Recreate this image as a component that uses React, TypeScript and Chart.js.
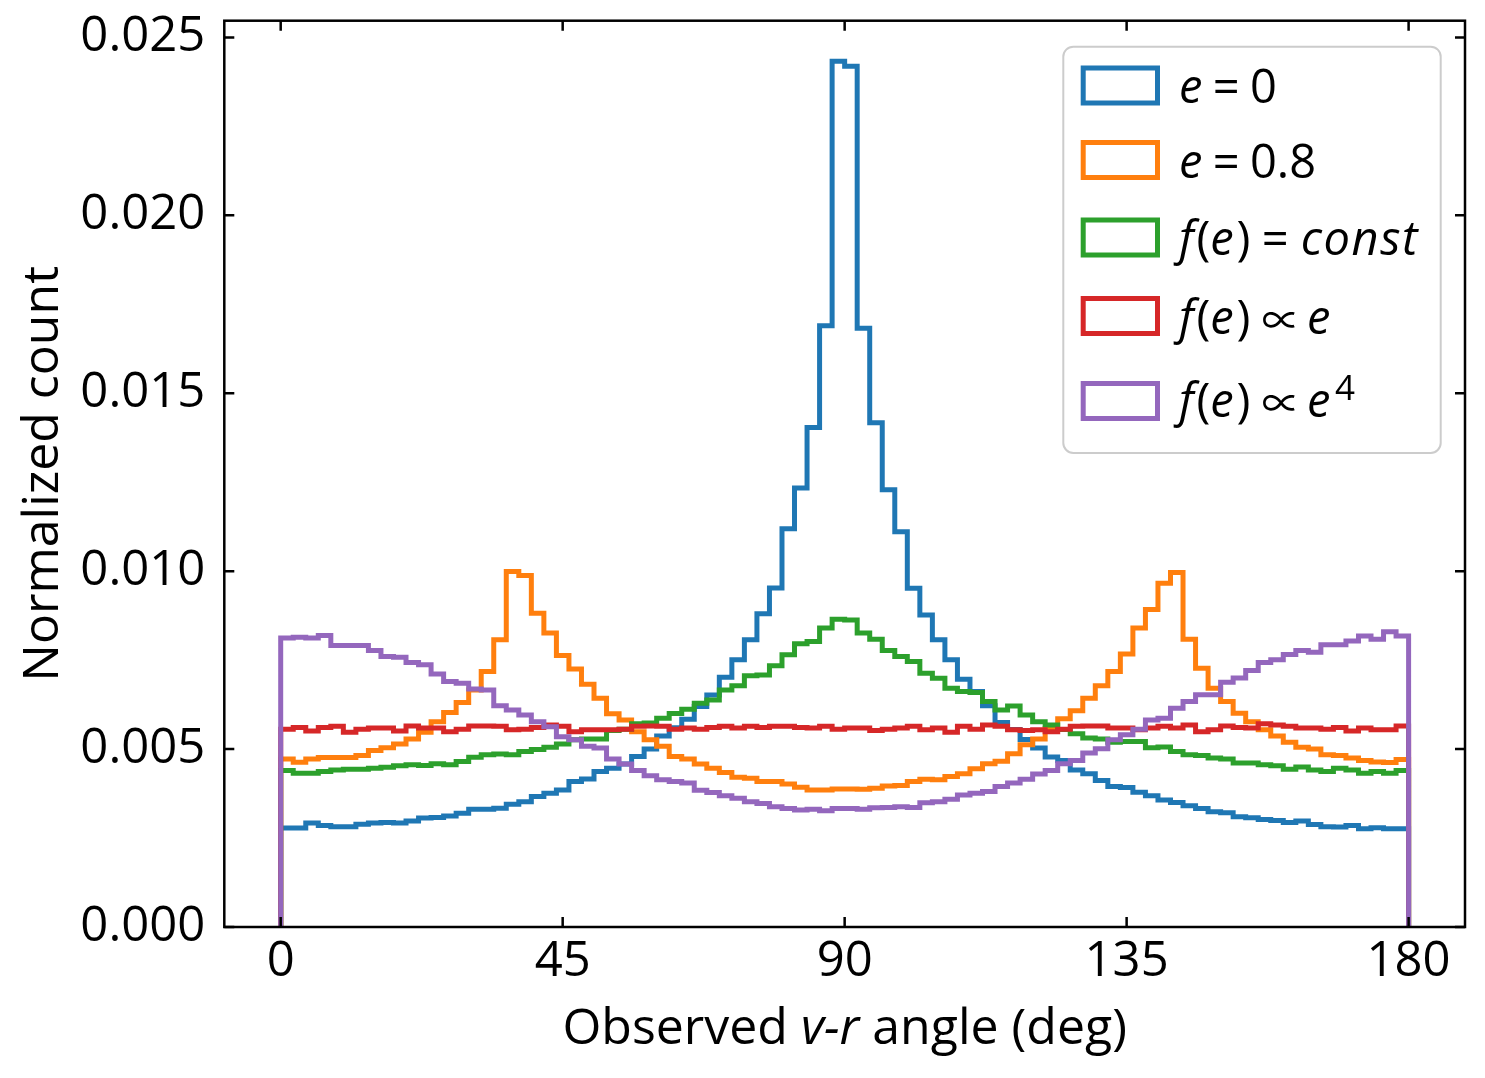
import { useEffect, useRef } from "react";
import { Chart, registerables } from "chart.js";

Chart.register(...registerables);

// ---------------- data ----------------
// Histogram: 90 bins of 2 degrees between 0 and 180 (values in units of 1e-3)
const BIN_WIDTH = 2;
const BIN_COUNT = 90;
const BIN_EDGES: number[] = Array.from({ length: BIN_COUNT + 1 }, (_, i) => i * BIN_WIDTH);
const UNIT = 1e-3;

const X_TICKS = [0, 45, 90, 135, 180];
const Y_TICKS = [0, 0.005, 0.01, 0.015, 0.02, 0.025];

const E0 = [
  2.78, 2.78, 2.92, 2.85, 2.82, 2.82, 2.89, 2.92, 2.94, 2.92,
  2.98, 3.06, 3.08, 3.12, 3.20, 3.31, 3.31, 3.34, 3.45, 3.52,
  3.67, 3.76, 3.85, 4.09, 4.16, 4.37, 4.46, 4.58, 4.79, 5.00,
  5.37, 5.60, 5.84, 6.20, 6.52, 7.02, 7.51, 8.07, 8.80, 9.53,
  11.19, 12.34, 14.04, 16.90, 24.33, 24.19, 16.83, 14.17, 12.29, 11.11,
  9.52, 8.77, 8.07, 7.51, 6.96, 6.62, 6.22, 5.75, 5.55, 5.27,
  5.03, 4.78, 4.68, 4.41, 4.31, 4.12, 3.95, 3.92, 3.79, 3.69,
  3.57, 3.50, 3.41, 3.33, 3.24, 3.21, 3.10, 3.07, 3.02, 2.99,
  2.94, 2.98, 2.88, 2.82, 2.81, 2.85, 2.76, 2.79, 2.76, 2.76,
];

const E08 = [
  4.72, 4.63, 4.72, 4.76, 4.76, 4.76, 4.82, 4.96, 5.04, 5.14,
  5.28, 5.47, 5.77, 6.03, 6.31, 6.66, 7.18, 8.07, 9.99, 9.88,
  8.82, 8.26, 7.63, 7.25, 6.82, 6.43, 5.99, 5.82, 5.49, 5.26,
  5.08, 4.79, 4.72, 4.58, 4.46, 4.34, 4.21, 4.18, 4.09, 4.09,
  4.02, 3.93, 3.85, 3.85, 3.88, 3.88, 3.87, 3.90, 3.96, 3.98,
  4.09, 4.15, 4.14, 4.23, 4.31, 4.45, 4.59, 4.66, 4.87, 5.12,
  5.28, 5.58, 5.85, 6.08, 6.43, 6.78, 7.18, 7.67, 8.40, 8.92,
  9.66, 9.96, 8.09, 7.27, 6.71, 6.34, 6.01, 5.77, 5.54, 5.37,
  5.19, 5.05, 5.00, 4.84, 4.82, 4.75, 4.68, 4.64, 4.62, 4.71,
];

const F_CONST = [
  4.40, 4.32, 4.32, 4.37, 4.41, 4.43, 4.43, 4.46, 4.49, 4.53,
  4.56, 4.54, 4.59, 4.56, 4.65, 4.77, 4.84, 4.86, 4.84, 4.93,
  4.99, 5.05, 5.14, 5.26, 5.28, 5.28, 5.52, 5.56, 5.71, 5.73,
  5.87, 6.00, 6.12, 6.29, 6.38, 6.66, 6.78, 7.06, 7.08, 7.34,
  7.65, 7.96, 8.02, 8.40, 8.65, 8.63, 8.26, 8.09, 7.77, 7.60,
  7.46, 7.13, 6.99, 6.71, 6.62, 6.59, 6.34, 6.10, 6.21, 5.96,
  5.77, 5.68, 5.55, 5.43, 5.31, 5.28, 5.19, 5.21, 5.21, 5.04,
  5.06, 4.93, 4.84, 4.82, 4.75, 4.72, 4.61, 4.61, 4.56, 4.53,
  4.43, 4.50, 4.41, 4.37, 4.46, 4.41, 4.32, 4.37, 4.32, 4.40,
];

const F_E = [
  5.56, 5.61, 5.51, 5.61, 5.64, 5.47, 5.56, 5.59, 5.59, 5.51,
  5.65, 5.59, 5.59, 5.49, 5.56, 5.65, 5.65, 5.64, 5.54, 5.56,
  5.61, 5.68, 5.64, 5.49, 5.54, 5.54, 5.54, 5.56, 5.64, 5.65,
  5.64, 5.56, 5.59, 5.56, 5.61, 5.64, 5.59, 5.64, 5.61, 5.64,
  5.64, 5.61, 5.59, 5.64, 5.56, 5.59, 5.59, 5.52, 5.56, 5.59,
  5.64, 5.54, 5.59, 5.47, 5.64, 5.56, 5.68, 5.64, 5.54, 5.52,
  5.54, 5.49, 5.56, 5.64, 5.65, 5.65, 5.59, 5.59, 5.54, 5.59,
  5.64, 5.59, 5.68, 5.49, 5.54, 5.65, 5.61, 5.59, 5.71, 5.68,
  5.64, 5.59, 5.59, 5.56, 5.61, 5.51, 5.59, 5.54, 5.54, 5.65,
];

const F_E4 = [
  8.12, 8.14, 8.12, 8.19, 7.91, 7.91, 7.91, 7.77, 7.60, 7.58,
  7.43, 7.37, 7.11, 6.90, 6.85, 6.69, 6.66, 6.22, 6.10, 5.96,
  5.77, 5.63, 5.35, 5.26, 5.08, 5.03, 4.72, 4.58, 4.40, 4.25,
  4.14, 4.09, 4.05, 3.84, 3.78, 3.69, 3.62, 3.52, 3.47, 3.38,
  3.33, 3.29, 3.31, 3.27, 3.33, 3.33, 3.31, 3.35, 3.36, 3.38,
  3.36, 3.49, 3.52, 3.59, 3.71, 3.76, 3.81, 3.95, 4.05, 4.15,
  4.30, 4.40, 4.59, 4.68, 4.89, 5.01, 5.26, 5.40, 5.56, 5.82,
  5.87, 6.15, 6.34, 6.53, 6.53, 6.88, 7.00, 7.21, 7.43, 7.51,
  7.66, 7.77, 7.72, 7.93, 7.93, 8.04, 8.18, 8.09, 8.30, 8.18,
];

type Part = { text: string; style: "up" | "it" | "sym" | "sup"; gap?: number; spacing?: number };

const REL = 0.22; // em spacing around relations
const ITC = 0.06; // italic correction before upright parentheses

const F_OF_E: Part[] = [
  { text: "f", style: "it" },
  { text: "(", style: "up", gap: ITC },
  { text: "e", style: "it" },
  { text: ")", style: "up", gap: ITC },
];

const SERIES: { name: string; color: string; values: number[]; label: Part[] }[] = [
  {
    name: "e = 0",
    color: "#1f77b4",
    values: E0,
    label: [
      { text: "e", style: "it" },
      { text: "=", style: "up", gap: REL },
      { text: "0", style: "up", gap: REL },
    ],
  },
  {
    name: "e = 0.8",
    color: "#ff7f0e",
    values: E08,
    label: [
      { text: "e", style: "it" },
      { text: "=", style: "up", gap: REL },
      { text: "0.8", style: "up", gap: REL },
    ],
  },
  {
    name: "f(e) = const",
    color: "#2ca02c",
    values: F_CONST,
    label: [
      ...F_OF_E,
      { text: "=", style: "up", gap: 0.24 },
      { text: "const", style: "it", gap: 0.26, spacing: 1.5 },
    ],
  },
  {
    name: "f(e) ∝ e",
    color: "#d62728",
    values: F_E,
    label: [
      ...F_OF_E,
      { text: "∝", style: "sym", gap: 0.26 },
      { text: "e", style: "it", gap: 0.26 },
    ],
  },
  {
    name: "f(e) ∝ e^4",
    color: "#9467bd",
    values: F_E4,
    label: [
      ...F_OF_E,
      { text: "∝", style: "sym", gap: 0.26 },
      { text: "e", style: "it", gap: 0.26 },
      { text: "4", style: "sup", gap: 0.1 },
    ],
  },
];

// ---------------- styling ----------------
const FONT = "'Open Sans', 'DejaVu Sans', sans-serif";
const SYM_FONT = "'Noto Sans CJK JP', 'DejaVu Sans', sans-serif";
const TICK_FONT_SIZE = 49;
const LABEL_FONT_SIZE = 50;
const LEGEND_FONT_SIZE = 47;
const W = 1485;
const H = 1078;

function stepPoints(values: number[]) {
  const pts: { x: number; y: number }[] = [{ x: BIN_EDGES[0], y: 0 }];
  values.forEach((v, i) => pts.push({ x: BIN_EDGES[i], y: v * UNIT }));
  pts.push({ x: BIN_EDGES[values.length], y: values[values.length - 1] * UNIT });
  pts.push({ x: BIN_EDGES[values.length], y: 0 });
  return pts;
}

// draws (or measures) a run of mixed-style text; returns the advance width
function drawParts(ctx: CanvasRenderingContext2D, parts: Part[], x: number, y: number, size: number, dry = false) {
  let cx = x;
  for (const p of parts) {
    cx += (p.gap ?? 0) * size;
    (ctx as any).letterSpacing = "0px";
    if (p.style === "sym") {
      // proportionality sign, thin and wide like matplotlib's mathtext glyph
      ctx.font = `${size}px ${SYM_FONT}`;
      const m0 = ctx.measureText(p.text);
      const w0 = m0.actualBoundingBoxRight + m0.actualBoundingBoxLeft;
      const target = 0.7 * size;
      const s = size * (w0 > 0 ? target / w0 : 1.2);
      ctx.font = `${s}px ${SYM_FONT}`;
      const m = ctx.measureText(p.text);
      const wantCenter = y - 0.3 * size;
      const yb = wantCenter - (m.actualBoundingBoxDescent - m.actualBoundingBoxAscent) / 2;
      if (!dry) ctx.fillText(p.text, cx + m.actualBoundingBoxLeft, yb);
      cx += m.actualBoundingBoxLeft + m.actualBoundingBoxRight;
      continue;
    }
    let dy = 0;
    if (p.style === "it") ctx.font = `italic ${size}px ${FONT}`;
    else if (p.style === "sup") {
      ctx.font = `${Math.round(size * 0.74)}px ${FONT}`;
      dy = -size * 0.36;
    } else ctx.font = `${size}px ${FONT}`;
    if (p.spacing) (ctx as any).letterSpacing = `${p.spacing}px`;
    if (!dry) ctx.fillText(p.text, cx, y + dy);
    cx += ctx.measureText(p.text).width;
    (ctx as any).letterSpacing = "0px";
  }
  return cx - x;
}

const decorPlugin = {
  id: "decor",
  afterDatasetsDraw(chart: any) {
    const ctx: CanvasRenderingContext2D = chart.ctx;
    const { left, right, top, bottom } = chart.chartArea;
    const xs = chart.scales.x;
    const ys = chart.scales.y;
    ctx.save();
    // frame
    ctx.strokeStyle = "#000";
    ctx.lineWidth = 2.5;
    ctx.lineCap = "butt";
    ctx.lineJoin = "miter";
    ctx.strokeRect(left, top, right - left, bottom - top);
    // inward ticks on all sides
    const TL = 10;
    ctx.beginPath();
    X_TICKS.forEach((v) => {
      const px = xs.getPixelForValue(v);
      ctx.moveTo(px, bottom);
      ctx.lineTo(px, bottom - TL);
      ctx.moveTo(px, top);
      ctx.lineTo(px, top + TL);
    });
    Y_TICKS.forEach((v) => {
      const py = ys.getPixelForValue(v);
      ctx.moveTo(left, py);
      ctx.lineTo(left + TL, py);
      ctx.moveTo(right, py);
      ctx.lineTo(right - TL, py);
    });
    ctx.stroke();

    // axis titles
    ctx.fillStyle = "#000";
    ctx.textBaseline = "alphabetic";
    ctx.textAlign = "left";
    const xTitle: Part[] = [
      { text: "Observed ", style: "up" },
      { text: "v-r", style: "it" },
      { text: " angle (deg)", style: "up" },
    ];
    const wx = drawParts(ctx, xTitle, 0, 0, LABEL_FONT_SIZE, true);
    drawParts(ctx, xTitle, (left + right) / 2 - wx / 2, 1044, LABEL_FONT_SIZE);

    ctx.save();
    ctx.translate(58, (top + bottom) / 2);
    ctx.rotate(-Math.PI / 2);
    ctx.font = `${LABEL_FONT_SIZE}px ${FONT}`;
    ctx.textAlign = "center";
    ctx.fillText("Normalized count", 0, 0);
    ctx.restore();

    // legend
    const bx0 = 1063.3, by0 = 46.7, bx1 = 1440.7, by1 = 453;
    ctx.beginPath();
    ctx.roundRect(bx0, by0, bx1 - bx0, by1 - by0, 10);
    ctx.fillStyle = "rgba(255,255,255,0.8)";
    ctx.fill();
    ctx.strokeStyle = "#cccccc";
    ctx.lineWidth = 2;
    ctx.stroke();

    const rowCenters = [85.5, 160, 237.5, 316, 401];
    const baselines = [103.3, 178.3, 255, 334, 416.7];
    SERIES.forEach((s, i) => {
      ctx.strokeStyle = s.color;
      ctx.lineWidth = 5;
      ctx.lineJoin = "miter";
      ctx.strokeRect(1083.2, rowCenters[i] - 17.5, 74.3, 35);
      ctx.fillStyle = "#000";
      ctx.textAlign = "left";
      ctx.textBaseline = "alphabetic";
      drawParts(ctx, s.label, 1179, baselines[i], LEGEND_FONT_SIZE);
    });
    ctx.restore();
  },
};

export default function App() {
  const canvasRef = useRef<HTMLCanvasElement | null>(null);

  useEffect(() => {
    const canvas = canvasRef.current;
    if (!canvas) return;
    const n = SERIES.length;
    const chart = new Chart(canvas, {
      type: "line",
      data: {
        datasets: SERIES.map((s, i) => ({
          label: s.name,
          data: stepPoints(s.values),
          borderColor: s.color,
          backgroundColor: s.color,
          borderWidth: 5,
          pointRadius: 0,
          pointHoverRadius: 0,
          stepped: "before" as const,
          fill: false,
          tension: 0,
          borderJoinStyle: "miter" as const,
          borderCapStyle: "butt" as const,
          order: n - i,
        })),
      },
      options: {
        animation: false,
        responsive: false,
        devicePixelRatio: 1,
        events: [],
        layout: { padding: { left: 0, top: 20.7, right: 20, bottom: 0 } },
        plugins: {
          legend: { display: false },
          tooltip: { enabled: false },
          title: { display: false },
        },
        scales: {
          x: {
            type: "linear",
            min: -9,
            max: 189,
            grid: { display: false, drawTicks: false },
            border: { display: false },
            ticks: {
              color: "#000",
              font: { family: FONT, size: TICK_FONT_SIZE },
              padding: 6,
              maxRotation: 0,
              autoSkip: false,
              callback: (v: any) => String(v),
            },
            afterBuildTicks: (scale: any) => {
              scale.ticks = X_TICKS.map((v) => ({ value: v }));
            },
            afterFit: (scale: any) => {
              scale.height = H - 927;
              scale.paddingLeft = 0;
              scale.paddingRight = 0;
              scale.paddingTop = 0;
              scale.paddingBottom = 0;
            },
          },
          y: {
            type: "linear",
            min: 0,
            max: 0.02547,
            grid: { display: false, drawTicks: false },
            border: { display: false },
            ticks: {
              color: "#000",
              font: { family: FONT, size: TICK_FONT_SIZE },
              padding: 19,
              autoSkip: false,
              callback: (v: any) => Number(v).toFixed(3),
            },
            afterBuildTicks: (scale: any) => {
              scale.ticks = Y_TICKS.map((v) => ({ value: v }));
            },
            afterFit: (scale: any) => {
              scale.width = 224.3;
              scale.paddingTop = 0;
              scale.paddingBottom = 0;
              scale.paddingLeft = 0;
              scale.paddingRight = 0;
            },
          },
        },
      },
      plugins: [decorPlugin],
    });
    return () => chart.destroy();
  }, []);

  return (
    <div style={{ position: "fixed", left: 0, top: 0, width: W, height: H, background: "#fff" }}>
      <canvas ref={canvasRef} width={W} height={H} style={{ width: W, height: H, display: "block" }} />
    </div>
  );
}
